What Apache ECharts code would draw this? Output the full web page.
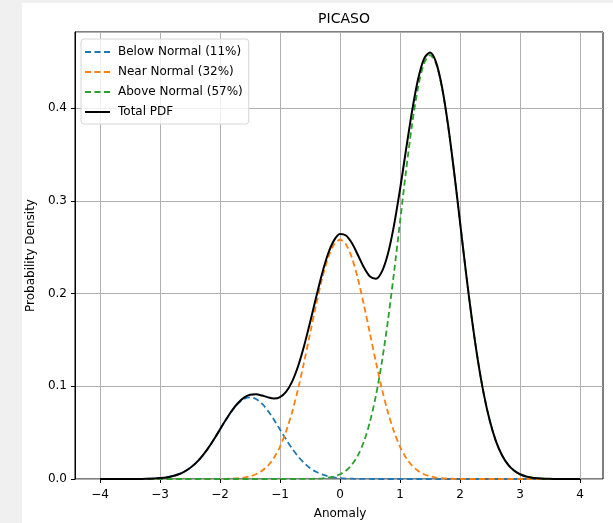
<!DOCTYPE html>
<html>
<head>
<meta charset="utf-8">
<script src="https://cdn.jsdelivr.net/npm/echarts@6/dist/echarts.min.js"></script>
<style>
  html, body { margin: 0; padding: 0; background: #f0f0f0; }
  #chart { position: absolute; left: 22px; top: 3px; width: 591px; height: 520px; background: #fff; }
</style>
</head>
<body>
<div id="chart"></div>
<script>
// anomaly grid, step 0.1
const xs = [
  -4.0, -3.9, -3.8, -3.7, -3.6, -3.5, -3.4, -3.3, -3.2, -3.1,
  -3.0, -2.9, -2.8, -2.7, -2.6, -2.5, -2.4, -2.3, -2.2, -2.1,
  -2.0, -1.9, -1.8, -1.7, -1.6, -1.5, -1.4, -1.3, -1.2, -1.1,
  -1.0, -0.9, -0.8, -0.7, -0.6, -0.5, -0.4, -0.3, -0.2, -0.1,
  0.0, 0.1, 0.2, 0.3, 0.4, 0.5, 0.6, 0.7, 0.8, 0.9,
  1.0, 1.1, 1.2, 1.3, 1.4, 1.5, 1.6, 1.7, 1.8, 1.9,
  2.0, 2.1, 2.2, 2.3, 2.4, 2.5, 2.6, 2.7, 2.8, 2.9,
  3.0, 3.1, 3.2, 3.3, 3.4, 3.5, 3.6, 3.7, 3.8, 3.9,
  4.0];

const belowNormal = [
  0, 0, 0, 0, 0, 0.00003, 0.0001, 0.0001, 0.0003, 0.0005,
  0.001, 0.0017, 0.003, 0.0049, 0.0078, 0.0119, 0.0174, 0.0245, 0.033, 0.0428,
  0.0534, 0.0639, 0.0735, 0.0812, 0.0863, 0.088, 0.0863, 0.0812, 0.0735, 0.0639,
  0.0534, 0.0428, 0.033, 0.0245, 0.0174, 0.0119, 0.0078, 0.0049, 0.003, 0.0017,
  0.001, 0.0005, 0.0003, 0.0001, 0.0001, 0.00003, 0, 0, 0, 0,
  0, 0, 0, 0, 0, 0, 0, 0, 0, 0,
  0, 0, 0, 0, 0, 0, 0, 0, 0, 0,
  0, 0, 0, 0, 0, 0, 0, 0, 0, 0,
  0];
const nearNormal = [
  0, 0, 0, 0, 0, 0, 0, 0, 0, 0,
  0, 0, 0, 0, 0, 0, 0, 0, 0.00002, 0.00004,
  0.0001, 0.0002, 0.0004, 0.0008, 0.0015, 0.0029, 0.0051, 0.0088, 0.0145, 0.0229,
  0.0349, 0.0511, 0.0717, 0.0968, 0.1256, 0.1565, 0.1873, 0.2155, 0.2382, 0.2529,
  0.258, 0.2529, 0.2382, 0.2155, 0.1873, 0.1565, 0.1256, 0.0968, 0.0717, 0.0511,
  0.0349, 0.0229, 0.0145, 0.0088, 0.0051, 0.0029, 0.0015, 0.0008, 0.0004, 0.0002,
  0.0001, 0.00004, 0.00002, 0, 0, 0, 0, 0, 0, 0,
  0, 0, 0, 0, 0, 0, 0, 0, 0, 0,
  0];
const aboveNormal = [
  0, 0, 0, 0, 0, 0, 0, 0, 0, 0,
  0, 0, 0, 0, 0, 0, 0, 0, 0, 0,
  0, 0, 0, 0, 0, 0, 0, 0, 0, 0,
  0, 0, 0.00001, 0.00003, 0.00007, 0.0002, 0.0003, 0.0007, 0.0014, 0.0027,
  0.0051, 0.0091, 0.0156, 0.0257, 0.0406, 0.0619, 0.0904, 0.1271, 0.1715, 0.2224,
  0.2772, 0.3319, 0.3817, 0.4219, 0.448, 0.457, 0.448, 0.4219, 0.3817, 0.3319,
  0.2772, 0.2224, 0.1715, 0.1271, 0.0904, 0.0619, 0.0406, 0.0257, 0.0156, 0.0091,
  0.0051, 0.0027, 0.0014, 0.0007, 0.0003, 0.0002, 0.00007, 0.00003, 0.00001, 0,
  0];
const totalPdf = [
  0, 0, 0, 0, 0, 0.00003, 0.0001, 0.0001, 0.0003, 0.0005,
  0.001, 0.0017, 0.003, 0.0049, 0.0078, 0.0119, 0.0174, 0.0245, 0.033, 0.0428,
  0.0535, 0.0641, 0.0739, 0.082, 0.0878, 0.0909, 0.0914, 0.09, 0.088, 0.0868,
  0.0883, 0.0939, 0.1047, 0.1213, 0.1431, 0.1686, 0.1954, 0.2211, 0.2426, 0.2573,
  0.2641, 0.2625, 0.2541, 0.2413, 0.228, 0.2184, 0.216, 0.2239, 0.2432, 0.2735,
  0.3121, 0.3548, 0.3962, 0.4307, 0.4531, 0.4599, 0.4495, 0.4227, 0.3821, 0.3321,
  0.2773, 0.2224, 0.1715, 0.1271, 0.0904, 0.0619, 0.0406, 0.0257, 0.0156, 0.0091,
  0.0051, 0.0027, 0.0014, 0.0007, 0.0003, 0.0002, 0.00007, 0.00003, 0.00001, 0,
  0];

const yTicks = [0, 0.1, 0.2, 0.3, 0.4];

const names = ["Below Normal (11%)", "Near Normal (32%)", "Above Normal (57%)", "Total PDF"];
const colors = ["#1f77b4", "#ff7f0e", "#2ca02c", "#000000"];
const values = [belowNormal, nearNormal, aboveNormal, totalPdf];

const dashIcon = "path://M0,0h6v2h-6z M9.5,0h6v2h-6z M19,0h6v2h-6z";
const solidIcon = "path://M0,0h25v2h-25z";

const font = "DejaVu Sans";
const pairs = (ys) => xs.map((x, i) => [x, ys[i]]);

const option = {
  animation: false,
  textStyle: { fontFamily: font },
  title: {
    text: "PICASO",
    left: 317,
    top: 4,
    textAlign: "center",
    textStyle: { fontFamily: font, fontSize: 14, fontWeight: "normal", color: "#000" },
  },
  legend: {
    orient: "vertical",
    left: 59,
    top: 36,
    data: names.map((n, i) => ({ name: n, icon: i === 3 ? solidIcon : dashIcon })),
    itemWidth: 25,
    itemHeight: 14,
    itemGap: 6,
    padding: [6, 6, 5, 4],
    backgroundColor: "rgba(255,255,255,0.8)",
    borderColor: "#d6d6d6",
    borderWidth: 1,
    borderRadius: 3,
    textStyle: { fontFamily: font, fontSize: 12, color: "#000", padding: [0, 0, 0, 3], lineHeight: 14, height: 14 },
  },
  grid: [
    // outer frame (spines + horizontal grid)
    { left: 53, top: 29, width: 528, height: 447, outerBoundsMode: "none", show: true, borderColor: "#000", borderWidth: 1, backgroundColor: "transparent" },
    // data area, x from -4 to 4
    { left: 78, top: 29, width: 480, height: 447, outerBoundsMode: "none" },
  ],
  xAxis: [
    { gridIndex: 0, type: "value", min: 0, max: 1, show: false },
    {
      gridIndex: 1,
      type: "value",
      min: -4,
      max: 4,
      interval: 1,
      name: "Anomaly",
      nameLocation: "middle",
      nameGap: 29,
      nameTextStyle: { fontFamily: font, fontSize: 12, color: "#000" },
      axisLine: { show: false, onZero: false },
      axisTick: { show: true, length: 4, lineStyle: { color: "#000", width: 1 } },
      axisLabel: {
        margin: 10,
        fontFamily: font,
        fontSize: 12,
        color: "#000",
        formatter: (v) => (v < 0 ? "\u2212" + Math.abs(v) : String(v)),
      },
      splitLine: { show: true, lineStyle: { color: "#b0b0b0", width: 1 } },
    },
  ],
  yAxis: [
    {
      gridIndex: 0,
      type: "value",
      min: 0,
      max: 0.482,
      interval: 0.1,
      name: "Probability Density",
      nameLocation: "middle",
      nameGap: 32,
      nameTextStyle: { fontFamily: font, fontSize: 12, color: "#000" },
      axisLine: { show: true, lineStyle: { color: "#000", width: 1 } },
      axisTick: { show: true, length: 4, lineStyle: { color: "#000", width: 1 } },
      axisLabel: {
        margin: 8,
        fontFamily: font,
        fontSize: 12,
        color: "#000",
        showMaxLabel: false,
        formatter: (v) => (yTicks.some((t) => Math.abs(t - v) < 1e-9) ? v.toFixed(1) : ""),
      },
      splitLine: { show: true, lineStyle: { color: "#b0b0b0", width: 1 } },
    },
    { gridIndex: 1, type: "value", min: 0, max: 0.482, show: false },
  ],
  series: names.map((name, i) => ({
    name: name,
    type: "line",
    xAxisIndex: 1,
    yAxisIndex: 1,
    data: pairs(values[i]),
    smooth: 0.3,
    showSymbol: false,
    symbol: "none",
    z: i === 3 ? 3 : 2,
    lineStyle: { color: colors[i], width: i === 3 ? 2 : 1.8, type: i === 3 ? "solid" : [6, 3.5] },
    itemStyle: { color: colors[i] },
  })),
};

let myChart = echarts.init(document.getElementById("chart"));
myChart.setOption(option);
</script>
</body>
</html>
